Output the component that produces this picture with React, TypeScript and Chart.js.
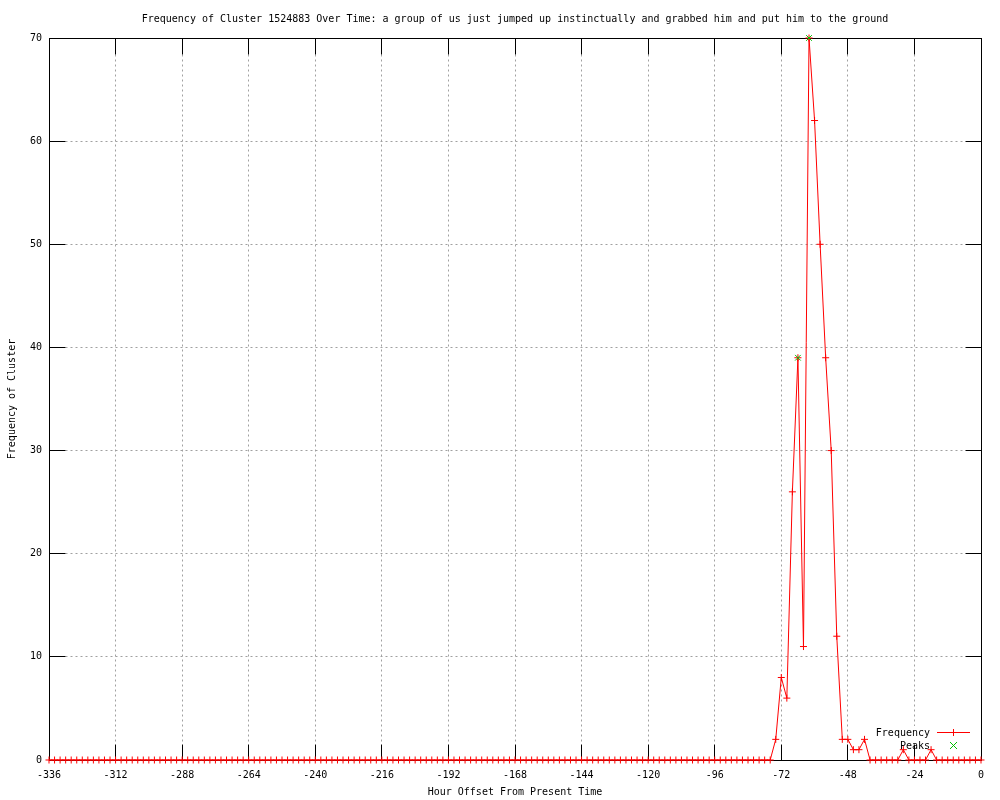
import React, { useEffect, useRef } from "react";
import { Chart, registerables } from "chart.js";

Chart.register(...registerables);

const TITLE =
  "Frequency of Cluster 1524883 Over Time: a group of us just jumped up instinctually and grabbed him and put him to the ground";
const X_TITLE = "Hour Offset From Present Time";
const Y_TITLE = "Frequency of Cluster";

const hours: number[] = [
  -336, -334, -332, -330, -328, -326, -324, -322, -320, -318, -316, -314,
  -312, -310, -308, -306, -304, -302, -300, -298, -296, -294, -292, -290,
  -288, -286, -284, -282, -280, -278, -276, -274, -272, -270, -268, -266,
  -264, -262, -260, -258, -256, -254, -252, -250, -248, -246, -244, -242,
  -240, -238, -236, -234, -232, -230, -228, -226, -224, -222, -220, -218,
  -216, -214, -212, -210, -208, -206, -204, -202, -200, -198, -196, -194,
  -192, -190, -188, -186, -184, -182, -180, -178, -176, -174, -172, -170,
  -168, -166, -164, -162, -160, -158, -156, -154, -152, -150, -148, -146,
  -144, -142, -140, -138, -136, -134, -132, -130, -128, -126, -124, -122,
  -120, -118, -116, -114, -112, -110, -108, -106, -104, -102, -100, -98,
  -96, -94, -92, -90, -88, -86, -84, -82, -80, -78, -76, -74,
  -72, -70, -68, -66, -64, -62, -60, -58, -56, -54, -52, -50,
  -48, -46, -44, -42, -40, -38, -36, -34, -32, -30, -28, -26,
  -24, -22, -20, -18, -16, -14, -12, -10, -8, -6, -4, -2,
  0,
];

const frequency: number[] = [
  0, 0, 0, 0, 0, 0, 0, 0, 0, 0, 0, 0,
  0, 0, 0, 0, 0, 0, 0, 0, 0, 0, 0, 0,
  0, 0, 0, 0, 0, 0, 0, 0, 0, 0, 0, 0,
  0, 0, 0, 0, 0, 0, 0, 0, 0, 0, 0, 0,
  0, 0, 0, 0, 0, 0, 0, 0, 0, 0, 0, 0,
  0, 0, 0, 0, 0, 0, 0, 0, 0, 0, 0, 0,
  0, 0, 0, 0, 0, 0, 0, 0, 0, 0, 0, 0,
  0, 0, 0, 0, 0, 0, 0, 0, 0, 0, 0, 0,
  0, 0, 0, 0, 0, 0, 0, 0, 0, 0, 0, 0,
  0, 0, 0, 0, 0, 0, 0, 0, 0, 0, 0, 0,
  0, 0, 0, 0, 0, 0, 0, 0, 0, 0, 0, 2,
  8, 6, 26, 39, 11, 70, 62, 50, 39, 30, 12, 2,
  2, 1, 1, 2, 0, 0, 0, 0, 0, 0, 1, 0,
  0, 0, 0, 1, 0, 0, 0, 0, 0, 0, 0, 0,
  0,
];

const peakHours: number[] = [-66, -62];
const peakValues: number[] = [39, 70];

const X_MIN = -336;
const X_MAX = 0;
const X_STEP = 24;
const Y_MIN = 0;
const Y_MAX = 70;
const Y_STEP = 10;

const FONT = '"DejaVu Sans Mono", "Liberation Mono", monospace';
const FONT_SIZE = 10;
const RED = "#ff0000";
const GREEN = "#00c000";
const GRID = "#a0a0a0";
const TICK_LEN = 16;

const crisp = (v: number) => Math.floor(v) + 0.5;

const gnuplotPlugin = {
  id: "gnuplotFrame",
  beforeDatasetsDraw(chart: any) {
    const { ctx, chartArea: a } = chart;
    const xs = chart.scales.x;
    const ys = chart.scales.y;
    const L = crisp(a.left);
    const R = crisp(a.right);
    const T = crisp(a.top);
    const B = crisp(a.bottom);
    ctx.save();
    ctx.lineWidth = 1;
    // grid
    ctx.strokeStyle = GRID;
    ctx.setLineDash([2, 3]);
    xs.ticks.forEach((t: any) => {
      if (t.value <= X_MIN || t.value >= X_MAX) return;
      const px = crisp(xs.getPixelForValue(t.value));
      ctx.beginPath();
      ctx.moveTo(px, T + TICK_LEN);
      ctx.lineTo(px, B - TICK_LEN);
      ctx.stroke();
    });
    ys.ticks.forEach((t: any) => {
      if (t.value <= Y_MIN || t.value >= Y_MAX) return;
      const py = crisp(ys.getPixelForValue(t.value));
      ctx.beginPath();
      ctx.moveTo(L + TICK_LEN, py);
      ctx.lineTo(R - TICK_LEN, py);
      ctx.stroke();
    });
    ctx.setLineDash([]);
    // key background
    ctx.fillStyle = "#ffffff";
    ctx.fillRect(872, 726, 104, 18);
    // frame
    ctx.strokeStyle = "#000000";
    ctx.strokeRect(L, T, R - L, B - T);
    // ticks
    ctx.beginPath();
    xs.ticks.forEach((t: any) => {
      const px = crisp(xs.getPixelForValue(t.value));
      ctx.moveTo(px, B);
      ctx.lineTo(px, B - TICK_LEN);
      ctx.moveTo(px, T);
      ctx.lineTo(px, T + TICK_LEN);
    });
    ys.ticks.forEach((t: any) => {
      const py = crisp(ys.getPixelForValue(t.value));
      ctx.moveTo(L, py);
      ctx.lineTo(L + TICK_LEN, py);
      ctx.moveTo(R, py);
      ctx.lineTo(R - TICK_LEN, py);
    });
    ctx.stroke();
    ctx.restore();
  },
  afterDraw(chart: any) {
    const { ctx, chartArea: a } = chart;
    const cx = (a.left + a.right) / 2;
    const cy = (a.top + a.bottom) / 2;
    ctx.save();
    ctx.fillStyle = "#000000";
    ctx.font = `${FONT_SIZE}px ${FONT}`;
    ctx.textBaseline = "middle";
    ctx.textAlign = "center";
    ctx.fillText(TITLE, cx, 19);
    ctx.fillText(X_TITLE, cx, 792);
    ctx.save();
    ctx.translate(12, cy);
    ctx.rotate(-Math.PI / 2);
    ctx.fillText(Y_TITLE, 0, 0);
    ctx.restore();
    // key
    ctx.textAlign = "right";
    ctx.fillText("Frequency", 930, 733);
    ctx.fillText("Peaks", 930, 746);
    ctx.lineWidth = 1;
    ctx.strokeStyle = RED;
    ctx.beginPath();
    ctx.moveTo(937, 732.5);
    ctx.lineTo(970, 732.5);
    ctx.moveTo(953.5, 729);
    ctx.lineTo(953.5, 736);
    ctx.stroke();
    ctx.strokeStyle = GREEN;
    ctx.beginPath();
    ctx.moveTo(950, 742);
    ctx.lineTo(957, 749);
    ctx.moveTo(957, 742);
    ctx.lineTo(950, 749);
    ctx.stroke();
    ctx.restore();
  },
};

export default function App() {
  const ref = useRef<HTMLCanvasElement | null>(null);

  useEffect(() => {
    document.body.style.margin = "0";
    const canvas = ref.current;
    if (!canvas) return;
    const freqPoints = hours.map((h, i) => ({ x: h, y: frequency[i] }));
    const peakPoints = peakHours.map((h, i) => ({ x: h, y: peakValues[i] }));
    const chart = new Chart(canvas, {
      type: "line",
      data: {
        datasets: [
          {
            label: "Peaks",
            data: peakPoints,
            showLine: false,
            pointStyle: "crossRot",
            pointRadius: 4,
            pointBorderWidth: 1,
            pointBorderColor: GREEN,
            pointBackgroundColor: GREEN,
            borderColor: GREEN,
            clip: false as any,
            order: 0,
          },
          {
            label: "Frequency",
            data: freqPoints,
            borderColor: RED,
            borderWidth: 1,
            tension: 0,
            pointStyle: "cross",
            pointRadius: 3.5,
            pointBorderWidth: 1,
            pointBorderColor: RED,
            pointBackgroundColor: RED,
            fill: false,
            clip: false as any,
            order: 1,
          },
        ],
      },
      options: {
        responsive: false,
        animation: false,
        devicePixelRatio: 1,
        layout: { padding: { top: 38, right: 19, left: 0, bottom: 0 } },
        plugins: {
          legend: { display: false },
          title: { display: false },
          tooltip: { enabled: false },
        },
        scales: {
          x: {
            type: "linear",
            min: X_MIN,
            max: X_MAX,
            grid: { display: false, drawTicks: false },
            border: { display: false },
            ticks: {
              stepSize: X_STEP,
              autoSkip: false,
              maxRotation: 0,
              color: "#000000",
              padding: 9,
              font: { family: FONT, size: FONT_SIZE },
            },
            afterFit: (s: any) => {
              s.height = 40;
            },
          },
          y: {
            type: "linear",
            min: Y_MIN,
            max: Y_MAX,
            grid: { display: false, drawTicks: false },
            border: { display: false },
            ticks: {
              stepSize: Y_STEP,
              color: "#000000",
              padding: 7,
              font: { family: FONT, size: FONT_SIZE },
            },
            afterFit: (s: any) => {
              s.width = 49;
            },
          },
        },
      },
      plugins: [gnuplotPlugin],
    });
    return () => chart.destroy();
  }, []);

  return (
    <div style={{ width: 1000, height: 800, background: "#ffffff" }}>
      <canvas ref={ref} width={1000} height={800} style={{ display: "block" }} />
    </div>
  );
}
